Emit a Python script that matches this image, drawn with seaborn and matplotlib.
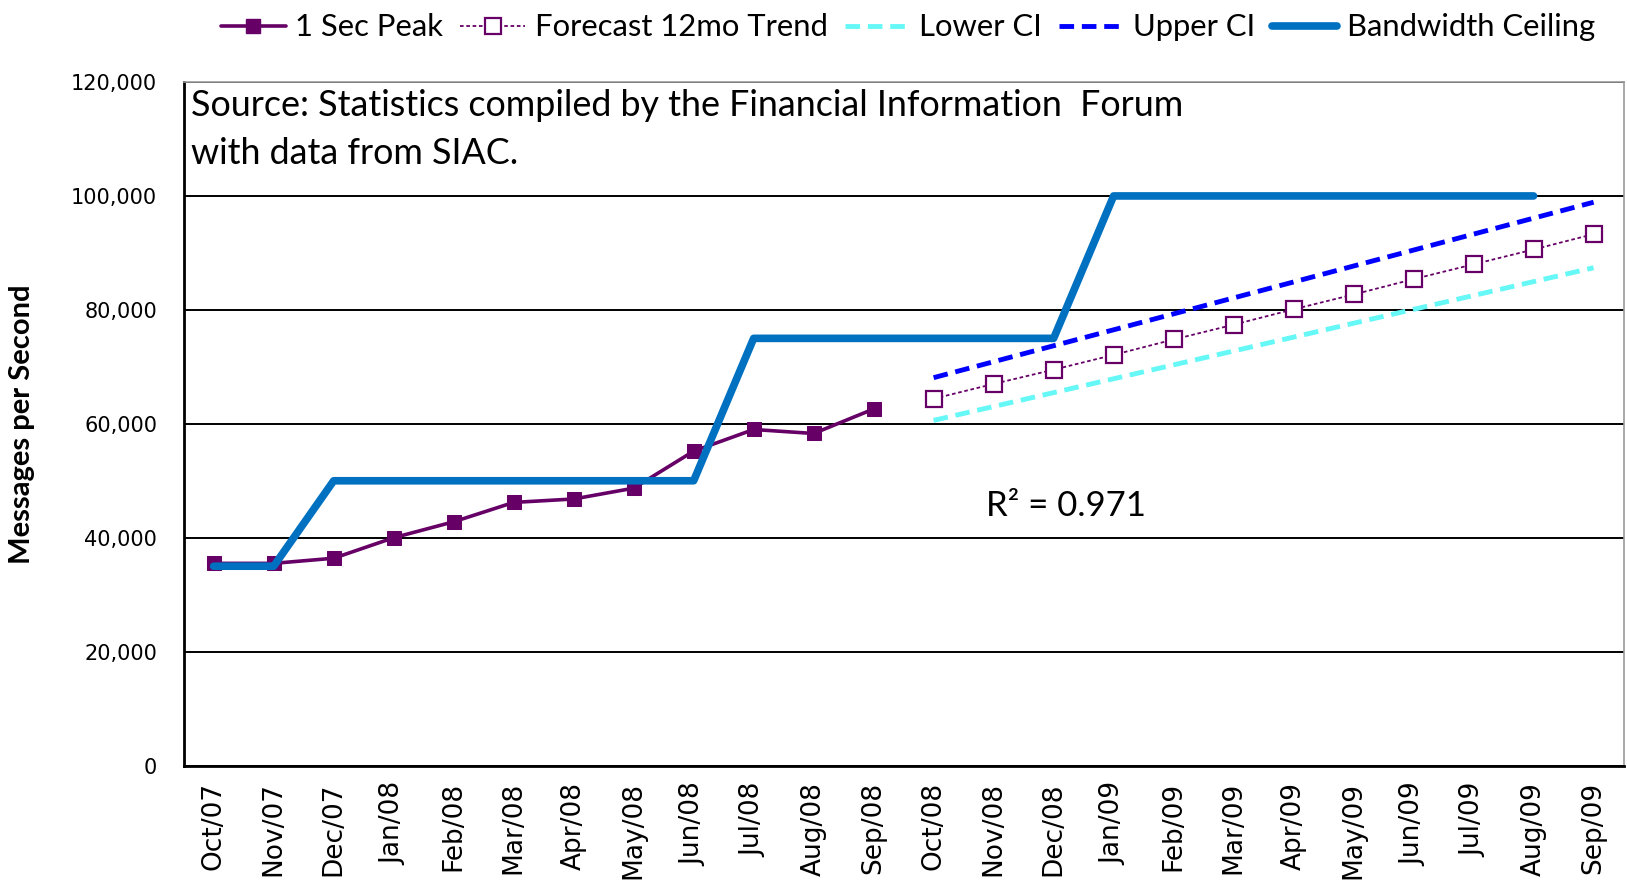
import matplotlib
matplotlib.use("Agg")
import matplotlib.pyplot as plt
from matplotlib.lines import Line2D
from matplotlib.ticker import FuncFormatter, FixedLocator, NullFormatter
import numpy as np
import pandas as pd
import seaborn as sns

months = ["Oct/07", "Nov/07", "Dec/07", "Jan/08", "Feb/08", "Mar/08", "Apr/08", "May/08",
          "Jun/08", "Jul/08", "Aug/08", "Sep/08", "Oct/08", "Nov/08", "Dec/08", "Jan/09",
          "Feb/09", "Mar/09", "Apr/09", "May/09", "Jun/09", "Jul/09", "Aug/09", "Sep/09"]

peak = [35500, 35500, 36400, 40000, 42800, 46200, 46800, 48700,
        55200, 59000, 58300, 62600]
forecast = [64400, 67000, 69500, 72100, 74800, 77400,
            80100, 82700, 85400, 88000, 90600, 93300]
lower_ci = [60600, 87400]   # Oct/08 and Sep/09 ends of straight line
upper_ci = [68100, 98900]
ceiling = [35000, 35000, 50000, 50000, 50000, 50000, 50000, 50000, 50000,
           75000, 75000, 75000, 75000, 75000, 75000,
           100000, 100000, 100000, 100000, 100000, 100000, 100000, 100000]

sns.set_style("white")
txt_font = ["Lato", "DejaVu Sans"]
plt.rcParams["font.family"] = ["DejaVu Sans"]
plt.rcParams["text.color"] = "black"
plt.rcParams["xtick.color"] = "black"
plt.rcParams["ytick.color"] = "black"
plt.rcParams["axes.labelcolor"] = "black"

peak_df = pd.DataFrame({"x": np.arange(len(peak)), "y": peak})
fc_df = pd.DataFrame({"x": np.arange(12, 12 + len(forecast)), "y": forecast})
lo_df = pd.DataFrame({"x": [12, 23], "y": lower_ci})
up_df = pd.DataFrame({"x": [12, 23], "y": upper_ci})
ceil_df = pd.DataFrame({"x": np.arange(len(ceiling)), "y": ceiling})

purple = "#660066"
cyan = "#66F7F7"
blue = "#0000FF"
ceil_col = "#0070C0"

fig = plt.figure(figsize=(16.27, 8.82), dpi=100)
ax = fig.add_axes([0.1129, 0.132, 0.885, 0.775])

sns.lineplot(data=fc_df, x="x", y="y", ax=ax, color=purple, lw=1.3, linestyle=(0, (2, 1.5)),
             marker="s", markersize=11, markerfacecolor="white", markeredgecolor=purple,
             markeredgewidth=1.6, zorder=3)
sns.lineplot(data=lo_df, x="x", y="y", ax=ax, color=cyan, lw=3.5, linestyle=(0, (3, 1.6)), zorder=3)
sns.lineplot(data=up_df, x="x", y="y", ax=ax, color=blue, lw=3.5, linestyle=(0, (3, 1.6)), zorder=3)
sns.lineplot(data=peak_df, x="x", y="y", ax=ax, color=purple, lw=2.6, marker="s", markersize=10,
             markeredgecolor=purple, zorder=4)
sns.lineplot(data=ceil_df, x="x", y="y", ax=ax, color=ceil_col, lw=5.5,
             solid_capstyle="round", zorder=5)

ax.set_xlim(-0.5, len(months) - 0.5)
ax.set_ylim(0, 120000)
ax.set_yticks(np.arange(0, 120001, 20000))
ax.yaxis.set_major_formatter(FuncFormatter(lambda v, p: f"{int(v):,}"))
ax.xaxis.set_major_locator(FixedLocator(np.arange(-0.5, len(months), 1.0)))
ax.xaxis.set_major_formatter(NullFormatter())
ax.xaxis.set_minor_locator(FixedLocator(np.arange(len(months))))
ax.set_xticklabels(months, minor=True, rotation=90, fontsize=19)
ax.tick_params(axis="x", which="major", direction="out", length=7, width=1.3)
ax.tick_params(axis="x", which="minor", length=0, pad=12)
ax.tick_params(axis="y", direction="out", length=7, width=1.3, labelsize=15, pad=12)

ax.grid(axis="y", color="black", lw=1.4)
ax.set_axisbelow(True)
for side in ["top", "right"]:
    ax.spines[side].set_color("#999999")
    ax.spines[side].set_linewidth(1.2)
for side in ["left", "bottom"]:
    ax.spines[side].set_color("black")
    ax.spines[side].set_linewidth(2)

ax.set_xlabel("")
ax.set_ylabel("Messages per Second", fontsize=21, fontweight="bold", family=txt_font, labelpad=26)

ax.text(0.005, 0.99, "Source: Statistics compiled by the Financial Information  Forum\nwith data from SIAC.",
        transform=ax.transAxes, ha="left", va="top", fontsize=25.8, family=txt_font, linespacing=1.55)
ax.text(14.2, 45500, "R² = 0.971", ha="center", va="center", fontsize=25, family=txt_font)

handles = [
    Line2D([], [], color=purple, lw=2.6, marker="s", markersize=10),
    Line2D([], [], color=purple, lw=1.3, linestyle=(0, (2, 1.5)), marker="s", markersize=11,
           markerfacecolor="white", markeredgewidth=1.6),
    Line2D([], [], color=cyan, lw=3.5, linestyle=(0, (3, 1.6))),
    Line2D([], [], color=blue, lw=3.5, linestyle=(0, (3, 1.6))),
    Line2D([], [], color=ceil_col, lw=5.5, solid_capstyle="round"),
]
labels = ["1 Sec Peak", "Forecast 12mo Trend", "Lower CI", "Upper CI", "Bandwidth Ceiling"]
fig.legend(handles, labels, loc="center", bbox_to_anchor=(0.558, 0.969), ncol=5, frameon=False,
           prop={"family": txt_font, "size": 22.3}, handlelength=2.1, columnspacing=0.55,
           handletextpad=0.3)

fig.savefig("out.png", dpi=100)
